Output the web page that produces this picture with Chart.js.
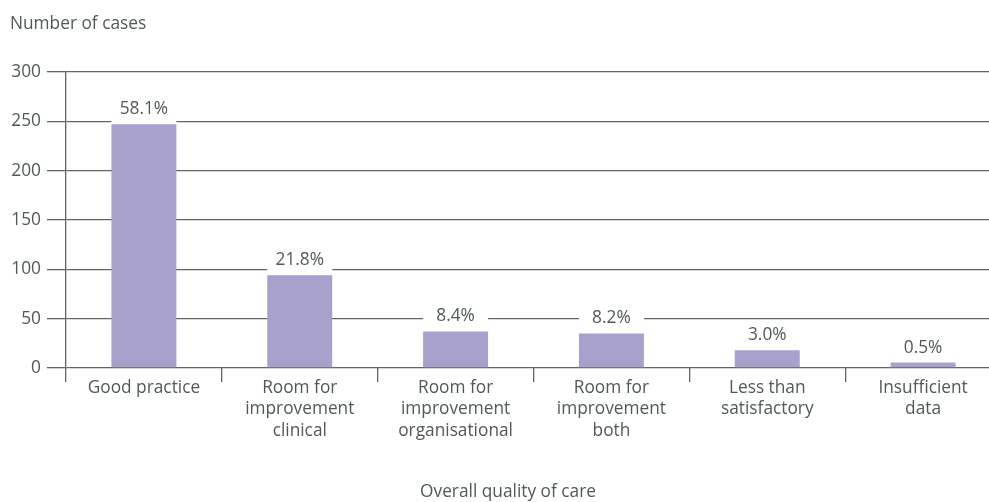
<!DOCTYPE html>
<html>
<head>
<meta charset="utf-8">
<script src="https://cdn.jsdelivr.net/npm/chart.js@4/dist/chart.umd.min.js"></script>
<style>
  html, body { margin: 0; padding: 0; background: #fff; overflow: hidden; }
  canvas { display: block; }
</style>
</head>
<body>
<canvas id="careChart" width="1004" height="502"></canvas>
<script>
const categories = [
    ['Good practice'],
    ['Room for', 'improvement', 'clinical'],
    ['Room for', 'improvement', 'organisational'],
    ['Room for', 'improvement', 'both'],
    ['Less than', 'satisfactory'],
    ['Insufficient', 'data']
];
const caseCounts = [247, 94, 37, 35, 18, 5.5];
const percentLabels = ['58.1%', '21.8%', '8.4%', '8.2%', '3.0%', '0.5%'];
const yTicks = [0, 50, 100, 150, 200, 250, 300];

const textColor = '#4f5a55';
const lineColor = '#5d6763';
const barColor = '#a7a1cc';
const fontFamily = '"Open Sans", "Noto Sans", sans-serif';
const fontSize = 17.3;

// white box + percentage above each bar, plus the two axis titles
const labelPlugin = {
    id: 'labelPlugin',
    afterDatasetsDraw(chart) {
        const c = chart.ctx;
        const meta = chart.getDatasetMeta(0);
        c.save();
        c.font = fontSize + 'px ' + fontFamily;
        c.textAlign = 'center';
        c.textBaseline = 'middle';
        meta.data.forEach((bar, i) => {
            const w = bar.width;
            c.fillStyle = '#fff';
            c.fillRect(bar.x - w / 2, bar.y - 30, w, 29);
            c.fillStyle = textColor;
            c.fillText(percentLabels[i], bar.x, bar.y - 15);
        });
        c.textAlign = 'left';
        c.fillText('Number of cases', 10, 24);
        c.textAlign = 'center';
        c.fillText('Overall quality of care', 508, 492);
        c.restore();
    }
};

const ctx = document.getElementById('careChart').getContext('2d');
new Chart(ctx, {
    type: 'bar',
    data: {
        labels: categories,
        datasets: [{
            data: caseCounts,
            backgroundColor: barColor,
            categoryPercentage: 1,
            barPercentage: 0.417
        }]
    },
    options: {
        responsive: false,
        animation: false,
        layout: { padding: { top: 72, right: 3, left: 0, bottom: 0 } },
        plugins: {
            legend: { display: false },
            tooltip: { enabled: false }
        },
        scales: {
            x: {
                afterFit(scale) { scale.height = 134; },
                grid: {
                    drawOnChartArea: false,
                    drawTicks: true,
                    tickLength: 14,
                    color: lineColor,
                    lineWidth: 1.3
                },
                border: { display: false },
                ticks: {
                    color: textColor,
                    padding: -5,
                    maxRotation: 0,
                    autoSkip: false,
                    font: { family: fontFamily, size: fontSize, lineHeight: 1.24 }
                }
            },
            y: {
                min: 0,
                max: 300,
                afterFit(scale) { scale.width = 66; },
                afterBuildTicks(scale) { scale.ticks = yTicks.map(v => ({ value: v })); },
                grid: {
                    color: lineColor,
                    lineWidth: 1.3,
                    tickLength: 19
                },
                border: { display: true, color: lineColor, width: 1.3 },
                ticks: {
                    color: textColor,
                    padding: 6,
                    font: { family: fontFamily, size: fontSize }
                }
            }
        }
    },
    plugins: [labelPlugin]
});
</script>
</body>
</html>
